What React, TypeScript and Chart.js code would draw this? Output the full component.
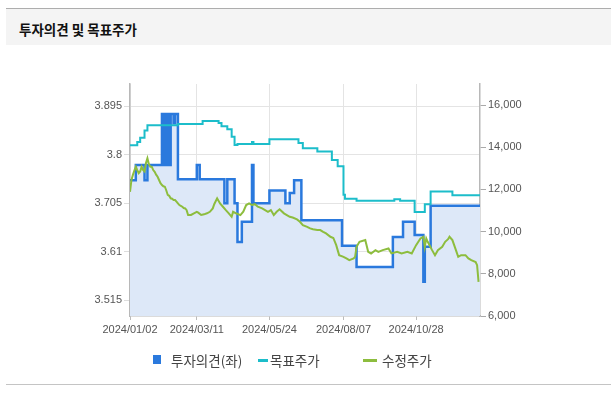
import React, { useEffect, useRef } from "react";
import { Chart, registerables } from "chart.js";

Chart.register(...registerables);

// x positions are trading-day indices since 2024/01/02
const xTickIdx = [0, 46, 96, 147, 197];
const xTickLabels = ["2024/01/02", "2024/03/11", "2024/05/24", "2024/08/07", "2024/10/28"];

const leftTicks = [3.515, 3.61, 3.705, 3.8, 3.895];
const rightTicks = [6000, 8000, 10000, 12000, 14000, 16000];

// 투자의견 (left axis), stepped: value applies from given index on
const opinionX = [0, 4, 10, 12, 22, 23, 24, 25, 26, 27, 28, 30, 31, 33, 46, 48, 65, 67, 72, 74, 77, 84, 85, 96, 107, 110, 113, 118, 146, 156, 181, 188, 196, 202, 203, 207, 241];
const opinionY = [3.75, 3.78, 3.75, 3.78, 3.88, 3.78, 3.88, 3.78, 3.88, 3.78, 3.88, 3.862, 3.88, 3.752, 3.78, 3.752, 3.705, 3.752, 3.705, 3.629, 3.669, 3.78, 3.705, 3.73, 3.705, 3.725, 3.75, 3.672, 3.622, 3.58, 3.639, 3.669, 3.643, 3.551, 3.62, 3.7, 3.7];

// 목표주가 (right axis), stepped
const targetX = [0, 5, 7, 10, 12, 33, 50, 61, 63, 67, 70, 72, 74, 84, 85, 96, 116, 119, 129, 139, 143, 147, 148, 156, 182, 186, 196, 203, 207, 222, 241];
const targetY = [14100, 14250, 14450, 14800, 15050, 15100, 15250, 15150, 15000, 14850, 14500, 14110, 14150, 14250, 14150, 14380, 14200, 13950, 13800, 13400, 13100, 11750, 11560, 11460, 11540, 11460, 10930, 11300, 11900, 11720, 11720];

// 수정주가 (right axis)
const priceX = [0, 1, 2, 3, 4, 5, 6, 7, 8, 9, 10, 11, 12, 13, 14, 15, 16, 17, 18, 19, 20, 21, 22, 23, 24, 25, 26, 27, 28, 29, 30, 31, 32, 33, 34, 35, 36, 37, 38, 39, 40, 42, 44, 46, 47, 49, 51, 53, 55, 57, 58, 60, 62, 64, 66, 68, 70, 71, 73, 76, 78, 80, 82, 84, 86, 88, 91, 93, 95, 97, 99, 101, 103, 106, 108, 110, 112, 115, 117, 119, 122, 124, 126, 129, 131, 133, 135, 138, 140, 142, 144, 147, 149, 151, 154, 155, 156, 158, 162, 164, 166, 169, 171, 174, 178, 180, 184, 187, 191, 194, 197, 200, 202, 203, 204, 205, 208, 210, 212, 215, 217, 219, 220, 222, 224, 226, 228, 231, 233, 235, 238, 239, 240];
const priceY = [11890, 12450, 12690, 12900, 13080, 12920, 12770, 12850, 13080, 12920, 12850, 13250, 13480, 13200, 13080, 13080, 12920, 12840, 12700, 12600, 12450, 12300, 12210, 12150, 12130, 11950, 11740, 11700, 11580, 11560, 11500, 11500, 11420, 11340, 11260, 11220, 11180, 11120, 11100, 11020, 10790, 10790, 10870, 10940, 10900, 10790, 10820, 10870, 10940, 11100, 11300, 11580, 11340, 11180, 11020, 10870, 10705, 10940, 10870, 10786, 10943, 11261, 11342, 11261, 11300, 11181, 11105, 11024, 10943, 11024, 10786, 10943, 11057, 10867, 10786, 10705, 10670, 10582, 10468, 10311, 10230, 10154, 10110, 10073, 10073, 9992, 9916, 9755, 9700, 9360, 8885, 8804, 8728, 8647, 8728, 8804, 9279, 9517, 9598, 9042, 8966, 9123, 9042, 9123, 9203, 8966, 9042, 8966, 9042, 8966, 9360, 9679, 9755, 9279, 9679, 9517, 9123, 8885, 9123, 9279, 9517, 9640, 9755, 9598, 9203, 8804, 8885, 8885, 8728, 8647, 8560, 8410, 7616];

const BLUE = "#2a79dd";
const FILL = "#dde8f8";
const CYAN = "#1cbdca";
const GREEN = "#8dbd3e";
const TICK_FONT = { family: "'Liberation Sans', Arial, sans-serif", size: 11 };

export default function App() {
  const ref = useRef<HTMLCanvasElement>(null);

  useEffect(() => {
    const ctx = ref.current!.getContext("2d")!;
    const pts = (xs: number[], ys: number[]) => xs.map((x, i) => ({ x, y: ys[i] }));
    const chart = new Chart(ctx, {
      type: "line",
      data: {
        datasets: [
          {
            label: "수정주가",
            data: pts(priceX, priceY),
            yAxisID: "yR",
            borderColor: GREEN,
            borderWidth: 2,
            pointRadius: 0,
            tension: 0,
            fill: false,
          },
          {
            label: "목표주가",
            data: pts(targetX, targetY),
            yAxisID: "yR",
            borderColor: CYAN,
            borderWidth: 2,
            pointRadius: 0,
            stepped: true,
            fill: false,
          },
          {
            label: "투자의견(좌)",
            data: pts(opinionX, opinionY),
            yAxisID: "yL",
            borderColor: BLUE,
            backgroundColor: FILL,
            borderWidth: 2.5,
            pointRadius: 0,
            stepped: true,
            fill: "start",
          },
        ],
      },
      options: {
        responsive: false,
        animation: false,
        devicePixelRatio: 1,
        layout: { padding: { left: 80, right: 81, top: 84, bottom: 51 } },
        plugins: { legend: { display: false }, tooltip: { enabled: false } },
        scales: {
          x: {
            type: "linear",
            min: 0,
            max: 241,
            afterBuildTicks: (s: any) => {
              s.ticks = xTickIdx.map((v) => ({ value: v }));
            },
            afterFit: (s: any) => {
              s.height = 30;
            },
            ticks: {
              autoSkip: false,
              maxRotation: 0,
              padding: 3,
              color: "#555",
              font: TICK_FONT,
              callback: (v: any) => xTickLabels[xTickIdx.indexOf(Number(v))] ?? "",
            },
            grid: { color: "#e4e4e4", tickLength: 4, tickColor: "#bbb" },
            border: { color: "#b8b8b8", width: 1.5 },
          },
          yL: {
            type: "linear",
            position: "left",
            min: 3.484,
            max: 3.939,
            afterBuildTicks: (s: any) => {
              s.ticks = leftTicks.map((v) => ({ value: v }));
            },
            afterFit: (s: any) => {
              s.width = 50;
            },
            ticks: {
              padding: 2,
              color: "#555",
              font: TICK_FONT,
              callback: (v: any) => String(v),
            },
            grid: { color: "#e4e4e4", tickLength: 6, tickColor: "#ddd" },
            border: { color: "#b8b8b8", width: 1.5 },
          },
          yR: {
            type: "linear",
            position: "right",
            min: 6000,
            max: 17000,
            afterBuildTicks: (s: any) => {
              s.ticks = rightTicks.map((v) => ({ value: v }));
            },
            afterFit: (s: any) => {
              s.width = 50;
            },
            ticks: {
              padding: 2,
              color: "#555",
              font: TICK_FONT,
              callback: (v: any) => Number(v).toLocaleString("en-US"),
            },
            grid: { drawOnChartArea: false, tickLength: 6, tickColor: "#aaa" },
            border: { color: "#b8b8b8", width: 1.5 },
          },
        },
      },
    });
    return () => chart.destroy();
  }, []);

  const legendText: React.CSSProperties = {
    position: "absolute",
    top: 350,
    lineHeight: "20px",
    fontSize: 13.5,
    color: "#444",
    fontFamily: "'Noto Sans CJK KR', sans-serif",
    whiteSpace: "nowrap",
  };

  return (
    <div style={{ position: "absolute", left: 0, top: 0, width: 611, height: 397, overflow: "hidden", background: "#fff" }}>
      <div style={{ position: "absolute", left: 6, top: 8, width: 605, height: 1, background: "#adadad" }} />
      <div style={{ position: "absolute", left: 6, top: 9, width: 605, height: 36, background: "#f4f4f4" }} />
      <div
        style={{
          position: "absolute",
          left: 19,
          top: 20,
          lineHeight: "19px",
          fontSize: 13.5,
          fontWeight: "bold",
          color: "#111",
          fontFamily: "'Noto Sans CJK KR', sans-serif",
          whiteSpace: "nowrap",
        }}
      >
        투자의견 및 목표주가
      </div>
      <canvas ref={ref} width={611} height={397} style={{ position: "absolute", left: 0, top: 0, width: 611, height: 397 }} />
      <div style={{ position: "absolute", left: 153, top: 355, width: 8, height: 9, background: BLUE }} />
      <div style={{ ...legendText, left: 171 }}>투자의견(좌)</div>
      <div style={{ position: "absolute", left: 258, top: 359, width: 10, height: 3, background: CYAN }} />
      <div style={{ ...legendText, left: 270 }}>목표주가</div>
      <div style={{ position: "absolute", left: 363, top: 359, width: 14, height: 3, background: GREEN }} />
      <div style={{ ...legendText, left: 382 }}>수정주가</div>
      <div style={{ position: "absolute", left: 6, top: 384, width: 605, height: 1, background: "#c4c4c4" }} />
    </div>
  );
}
